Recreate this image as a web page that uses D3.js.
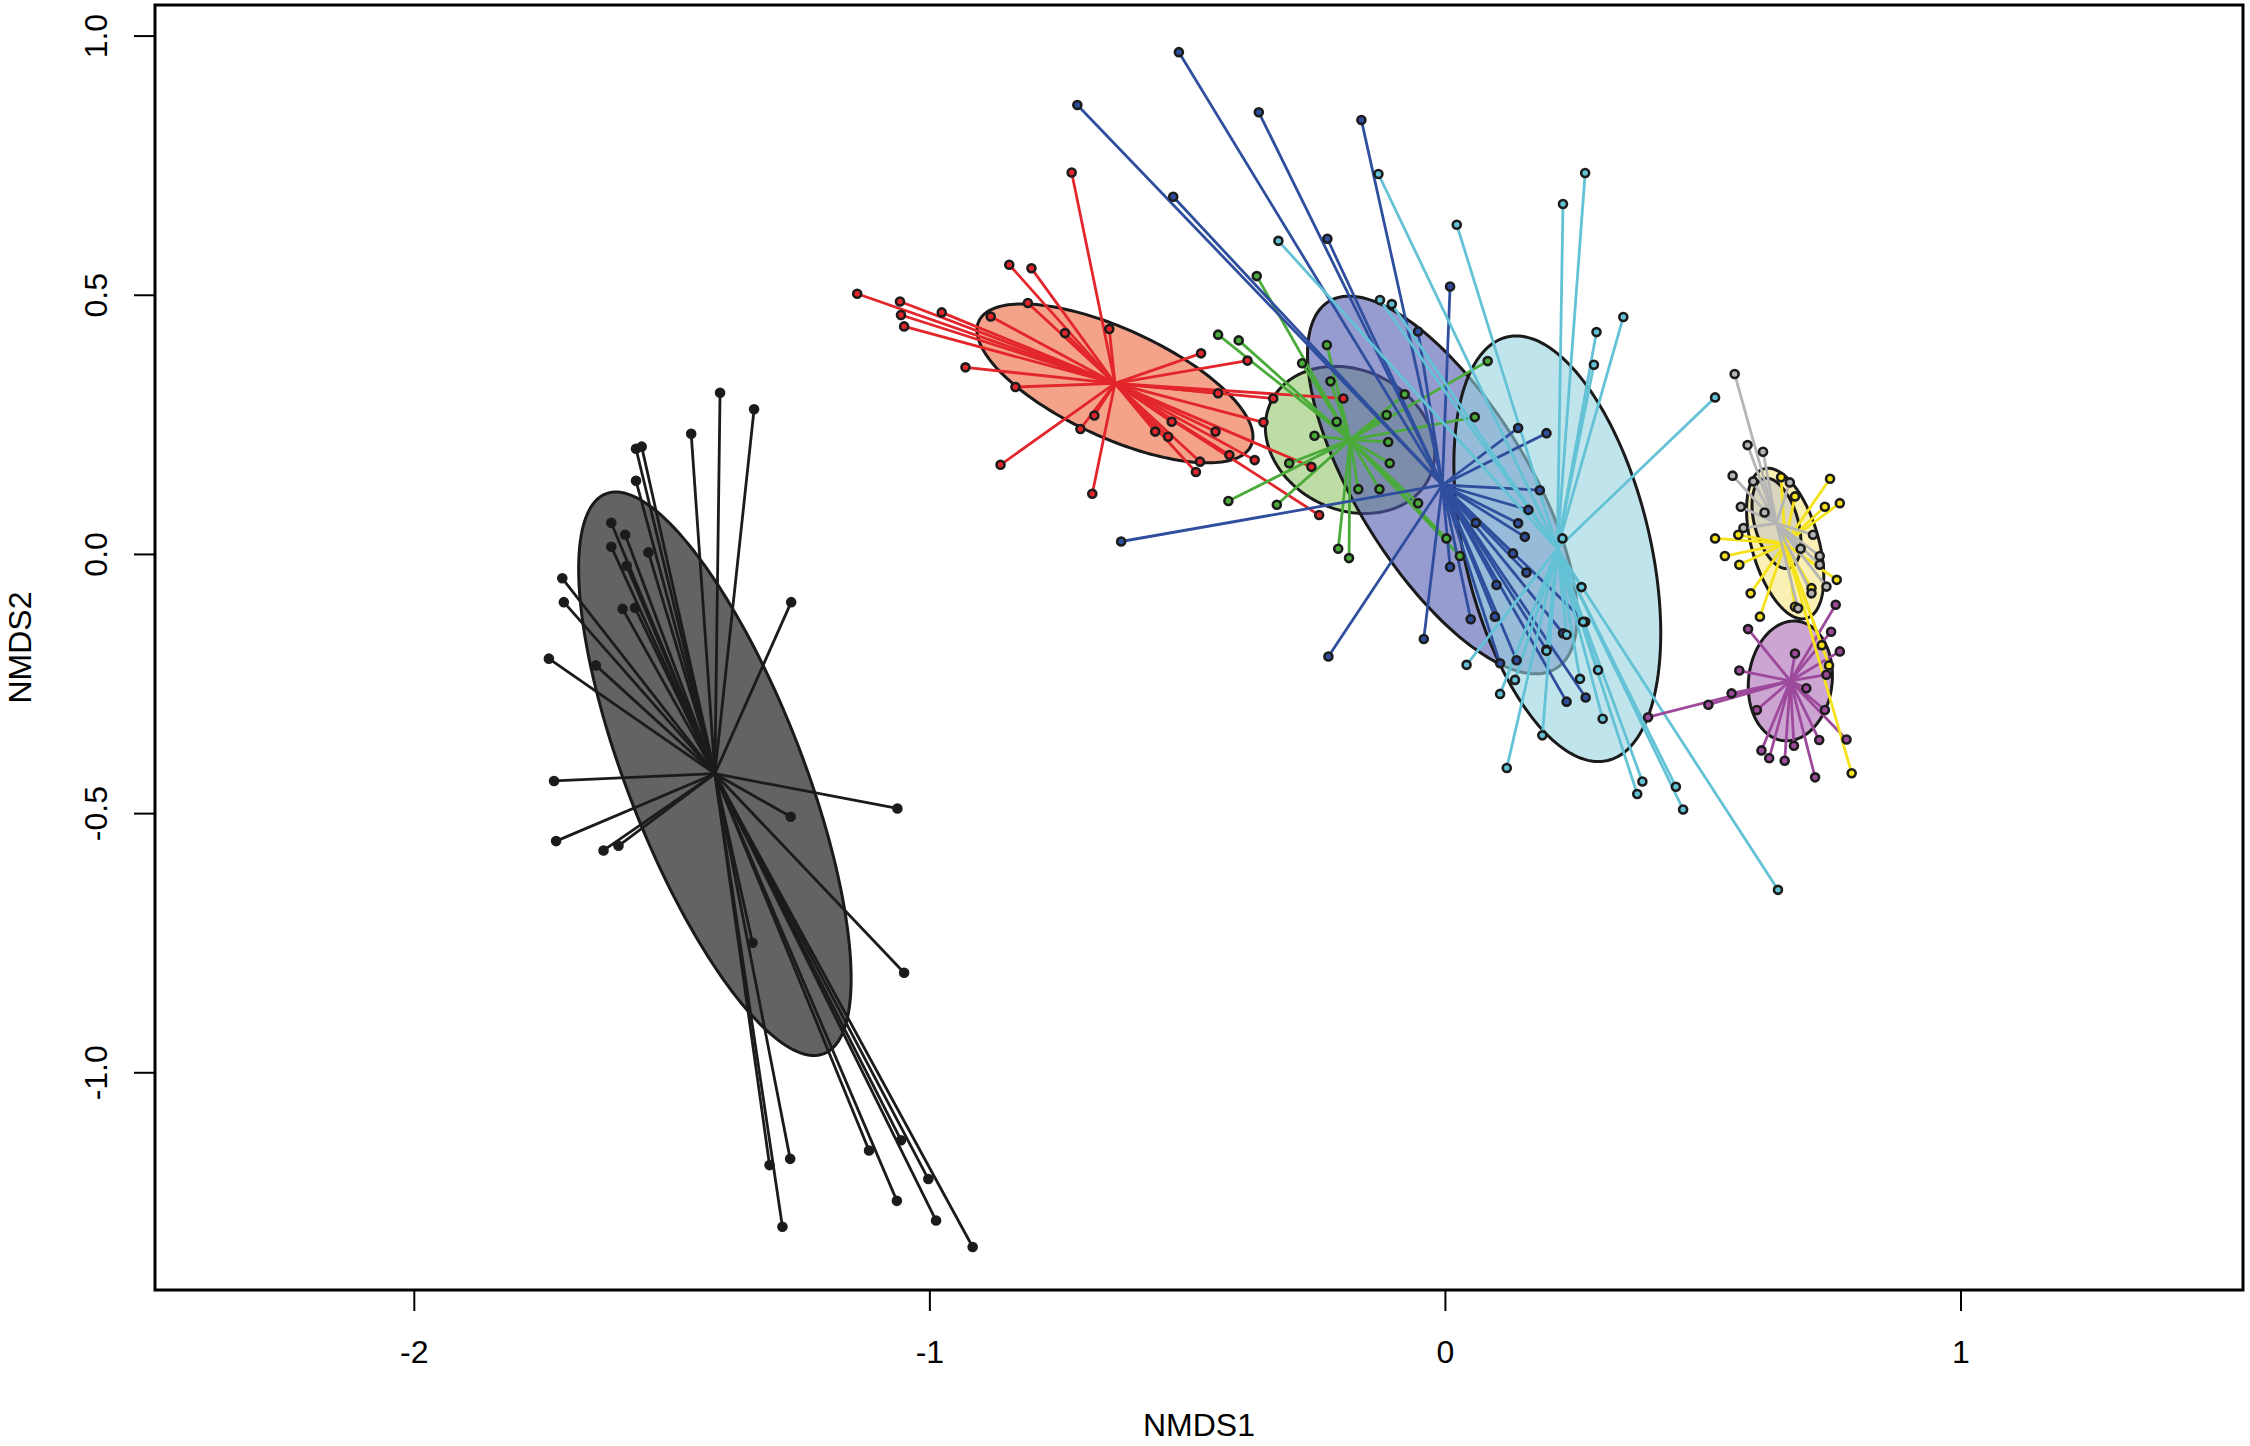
<!DOCTYPE html>
<html><head><meta charset="utf-8">
<script src="https://cdn.jsdelivr.net/npm/d3@7/dist/d3.min.js"></script>
<style>
body{margin:0;background:#fff}
text{font-family:"Liberation Sans",Arial,Helvetica,sans-serif}
</style>
</head><body>
<svg id="chart" width="2250" height="1446"></svg>
<script>
// ---------------- DATA ----------------
const xTicks = [-2, -1, 0, 1];
const yTicks = [-1.0, -0.5, 0.0, 0.5, 1.0];
const xTickLabels = ["-2", "-1", "0", "1"];
const yTickLabels = ["-1.0", "-0.5", "0.0", "0.5", "1.0"];
const axisTitles = ["NMDS1", "NMDS2"];

const groupNames = ["black", "red", "green", "blue", "cyan", "purple", "yellow", "gray"];

const ptsBlack = [[-1.406,0.311],[-1.340,0.279],[-1.462,0.232],[-1.558,0.207],[-1.569,0.203],[-1.569,0.141],
 [-1.617,0.060],[-1.590,0.037],[-1.617,0.014],[-1.545,0.003],[-1.587,-0.023],[-1.712,-0.047],[-1.709,-0.093],
 [-1.595,-0.106],[-1.571,-0.104],[-1.268,-0.093],[-1.738,-0.202],[-1.647,-0.215],[-1.728,-0.438],[-1.062,-0.491],
 [-1.269,-0.507],[-1.724,-0.554],[-1.632,-0.572],[-1.603,-0.563],[-1.343,-0.750],[-1.049,-0.808],[-1.270,-1.167],
 [-1.310,-1.179],[-1.117,-1.151],[-1.055,-1.131],[-1.002,-1.206],[-1.063,-1.248],[-0.987,-1.286],[-1.285,-1.298],
 [-0.916,-1.337]];
const ptsRed = [[-0.724,0.736],[-0.845,0.558],[-0.802,0.551],[-1.140,0.502],[-1.057,0.487],[-1.055,0.461],
 [-1.049,0.439],[-0.976,0.466],[-0.881,0.458],[-0.809,0.484],[-0.737,0.426],[-0.651,0.434],[-0.930,0.360],
 [-0.833,0.322],[-0.473,0.387],[-0.383,0.373],[-0.440,0.310],[-0.333,0.300],[-0.197,0.300],[-0.680,0.267],
 [-0.707,0.241],[-0.530,0.255],[-0.562,0.236],[-0.537,0.226],[-0.445,0.236],[-0.352,0.254],[-0.475,0.178],
 [-0.369,0.181],[-0.483,0.158],[-0.259,0.168],[-0.862,0.172],[-0.684,0.116],[-0.244,0.075],[-0.418,0.191]];
const ptsGreen = [[-0.365,0.536],[-0.440,0.423],[-0.400,0.412],[-0.229,0.403],[-0.277,0.368],[-0.222,0.333],
 [-0.078,0.308],[0.083,0.372],[0.058,0.264],[-0.113,0.268],[-0.210,0.255],[-0.253,0.228],[-0.110,0.216],
 [-0.107,0.175],[-0.302,0.175],[-0.420,0.102],[-0.326,0.095],[-0.168,0.125],[-0.127,0.125],[-0.052,0.098],
 [0.003,0.030],[-0.207,0.010],[-0.186,-0.008],[0.029,-0.004]];
const ptsBlue = [[-0.516,0.968],[-0.713,0.866],[-0.361,0.852],[-0.162,0.837],[-0.527,0.689],[-0.228,0.608],
 [0.010,0.516],[-0.052,0.429],[0.197,0.233],[0.142,0.243],[0.184,0.123],[0.162,0.085],[0.142,0.059],
 [0.155,0.033],[-0.628,0.024],[0.132,0.001],[0.010,-0.025],[0.158,-0.036],[0.050,-0.126],[0.097,-0.121],
 [-0.041,-0.164],[-0.226,-0.198],[0.107,-0.211],[0.236,-0.285],[0.273,-0.277],[0.139,-0.205],[0.197,-0.185],
 [0.229,-0.153],[0.272,-0.131],[0.100,-0.060],[0.060,0.060]];
const ptsCyan = [[-0.129,0.733],[0.272,0.735],[0.229,0.675],[0.023,0.635],[-0.323,0.604],[0.346,0.457],
 [0.294,0.428],[0.289,0.365],[0.524,0.302],[-0.126,0.490],[-0.103,0.482],[0.042,-0.214],[0.107,-0.270],
 [0.189,-0.350],[0.120,-0.413],[0.306,-0.318],[0.373,-0.463],[0.383,-0.439],[0.448,-0.449],[0.462,-0.493],
 [0.646,-0.648],[0.262,-0.241],[0.297,-0.224],[0.265,-0.064],[0.268,-0.131],[0.236,-0.156],[0.197,-0.187],
 [0.228,0.030],[0.136,-0.243]];
const ptsPurple = [[0.588,-0.145],[0.758,-0.098],[0.749,-0.150],[0.766,-0.188],[0.571,-0.225],[0.556,-0.269],
 [0.511,-0.291],[0.605,-0.301],[0.740,-0.233],[0.737,-0.301],[0.779,-0.358],[0.726,-0.359],[0.677,-0.370],
 [0.614,-0.379],[0.629,-0.394],[0.659,-0.399],[0.718,-0.431],[0.701,-0.259],[0.679,-0.192],[0.394,-0.315]];
const ptsYellow = [[0.652,0.148],[0.747,0.145],[0.766,0.098],[0.737,0.091],[0.679,0.111],[0.524,0.030],
 [0.543,-0.004],[0.571,-0.021],[0.593,-0.076],[0.611,-0.121],[0.760,-0.050],[0.789,-0.423],[0.711,-0.066],
 [0.679,-0.102],[0.731,-0.176],[0.569,0.037],[0.745,-0.215]];
const ptsGray = [[0.562,0.347],[0.587,0.210],[0.617,0.197],[0.558,0.151],[0.669,0.138],[0.574,0.091],
 [0.579,0.050],[0.714,0.037],[0.727,-0.004],[0.727,-0.021],[0.740,-0.063],[0.685,-0.105],[0.598,0.140],
 [0.711,-0.076],[0.620,0.080],[0.690,0.010]];

// group centroids (spider hubs / ellipse centres)
const centroids = [[-1.416,-0.424],[-0.640,0.329],[-0.184,0.220],[-0.005,0.133],[0.218,0.010],
 [0.670,-0.245],[0.660,0.020],[0.643,0.059]];
// ellipse semi-axes and rotation (degrees)
const ellipseA = [0.580, 0.290, 0.170, 0.417, 0.420, 0.116, 0.150, 0.090];
const ellipseB = [0.170, 0.105, 0.135, 0.165, 0.180, 0.081, 0.065, 0.042];
const ellipseAngle = [-68.6, -24.4, -25, -58, -76.5, 83, -74, -74];

// ---------------- STYLE ----------------
const lineColor = {black:"#1b1b1b", red:"#e3262b", green:"#4bab3a", blue:"#2f4f9e", cyan:"#63c2d5",
  purple:"#9e4a9c", yellow:"#f5e21a", gray:"#b5b5b5"};
const fillColor = {black:"#000000", red:"#ed663c", green:"#93c569", blue:"#5058b1", cyan:"#96d2df",
  purple:"#ac69b4", yellow:"#f7e682", gray:"#c5c5c5"};
const fillOpacity = {black:0.61, red:0.6, green:0.6, blue:0.6, cyan:0.6, purple:0.6, yellow:0.6, gray:0.6};

const allPts = [ptsBlack, ptsRed, ptsGreen, ptsBlue, ptsCyan, ptsPurple, ptsYellow, ptsGray];

// ---------------- CHART ----------------
const L = 155, R = 2243, T = 5, B = 1290;
const svg = d3.select("#chart");
const x = d3.scaleLinear().domain([-2.502, 1.548]).range([L, R]);
const y = d3.scaleLinear().domain([-1.420, 1.059]).range([B, T]);

svg.append("defs").append("clipPath").attr("id","clip")
  .append("rect").attr("x",L).attr("y",T).attr("width",R-L).attr("height",B-T);
const plot = svg.append("g").attr("clip-path","url(#clip)");

const groups = groupNames.map((name,i)=>({name, pts:allPts[i], c:centroids[i],
  a:ellipseA[i], b:ellipseB[i], ang:ellipseAngle[i]}));

function ellipsePoints(g){
  const th = g.ang*Math.PI/180;
  return d3.range(0,360,2).map(d=>{
    const t = d*Math.PI/180;
    return [g.c[0] + g.a*Math.cos(t)*Math.cos(th) - g.b*Math.sin(t)*Math.sin(th),
            g.c[1] + g.a*Math.cos(t)*Math.sin(th) + g.b*Math.sin(t)*Math.cos(th)];
  });
}
const line = d3.line().x(d=>x(d[0])).y(d=>y(d[1])).curve(d3.curveLinearClosed);

// ellipses
plot.append("g").selectAll("path").data(groups).join("path")
  .attr("d", g=>line(ellipsePoints(g)))
  .attr("fill", g=>fillColor[g.name])
  .attr("fill-opacity", g=>fillOpacity[g.name])
  .attr("stroke", "#1a1a1a").attr("stroke-width", 3);

// spiders
groups.forEach(g=>{
  plot.append("g").selectAll("line").data(g.pts).join("line")
    .attr("x1", x(g.c[0])).attr("y1", y(g.c[1]))
    .attr("x2", d=>x(d[0])).attr("y2", d=>y(d[1]))
    .attr("stroke", lineColor[g.name]).attr("stroke-width", 2.8);
});

// points
groups.forEach(g=>{
  plot.append("g").selectAll("circle").data(g.pts).join("circle")
    .attr("cx", d=>x(d[0])).attr("cy", d=>y(d[1])).attr("r", 4)
    .attr("fill", lineColor[g.name]).attr("stroke", "#1c1c1c").attr("stroke-width", 2.6);
});

// axes
const xAxis = svg.append("g").attr("transform", `translate(0,${B})`)
  .call(d3.axisBottom(x).tickValues(xTicks).tickSize(21).tickFormat((d,i)=>xTickLabels[i]));
xAxis.select(".domain").remove();
xAxis.selectAll("line").attr("stroke","#000").attr("stroke-width",2);
xAxis.selectAll("text").attr("y",73).attr("dy",0).attr("fill","#000")
  .style("font-size","32px").style("font-family",'"Liberation Sans",Arial,sans-serif');

const yAxis = svg.append("g").attr("transform", `translate(${L},0)`)
  .call(d3.axisLeft(y).tickValues(yTicks).tickSize(21).tickFormat((d,i)=>yTickLabels[i]));
yAxis.select(".domain").remove();
yAxis.selectAll("line").attr("stroke","#000").attr("stroke-width",2);
yAxis.selectAll("text").attr("x",0).attr("dy",0).attr("text-anchor","middle")
  .attr("transform","translate(-48,0) rotate(-90)").attr("fill","#000")
  .style("font-size","32px").style("font-family",'"Liberation Sans",Arial,sans-serif');

// box
svg.append("rect").attr("x",L).attr("y",T).attr("width",R-L).attr("height",B-T)
  .attr("fill","none").attr("stroke","#000").attr("stroke-width",3);

// titles
svg.append("text").attr("x",(L+R)/2).attr("y",1436).attr("text-anchor","middle")
  .style("font-size","32px").text(axisTitles[0]);
svg.append("text").attr("transform",`translate(31,${(T+B)/2}) rotate(-90)`).attr("text-anchor","middle")
  .style("font-size","32px").text(axisTitles[1]);
</script>
</body></html>
